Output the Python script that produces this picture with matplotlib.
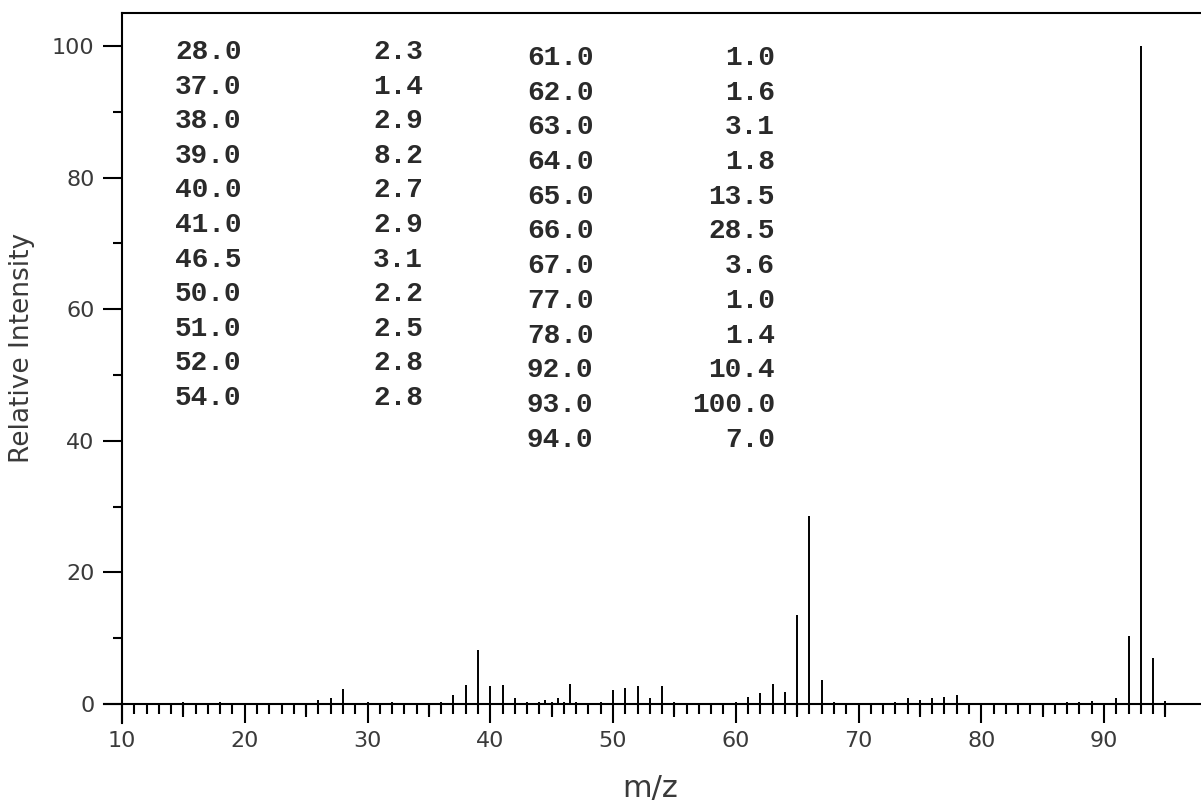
import numpy as np
import matplotlib
matplotlib.use("Agg")
import matplotlib.pyplot as plt

# peak list (m/z, relative intensity)
mz = [15, 18, 26, 27, 28, 30, 32, 36, 37, 38, 39, 40, 41, 42, 43, 44, 44.5, 45,
      45.5, 46, 46.5, 47, 49, 50, 51, 52, 53, 54, 55, 60, 61, 62, 63, 64, 65, 66,
      67, 68, 73, 74, 75, 76, 77, 78, 87, 88, 89, 91, 92, 93, 94, 95]
intensity = [0.3, 0.3, 0.6, 0.9, 2.3, 0.3, 0.3, 0.3, 1.4, 2.9, 8.2, 2.7, 2.9, 0.9,
             0.3, 0.3, 0.6, 0.3, 0.9, 0.3, 3.1, 0.3, 0.3, 2.2, 2.5, 2.8, 0.9, 2.8,
             0.3, 0.3, 1.0, 1.6, 3.1, 1.8, 13.5, 28.5, 3.6, 0.3, 0.3, 0.9, 0.6, 0.9,
             1.0, 1.4, 0.3, 0.3, 0.4, 0.9, 10.4, 100.0, 7.0, 0.4]

# peak table printed in the plot
tab1_mz = ["28.0", "37.0", "38.0", "39.0", "40.0", "41.0", "46.5", "50.0", "51.0", "52.0", "54.0"]
tab1_int = ["2.3", "1.4", "2.9", "8.2", "2.7", "2.9", "3.1", "2.2", "2.5", "2.8", "2.8"]
tab2_mz = ["61.0", "62.0", "63.0", "64.0", "65.0", "66.0", "67.0", "77.0", "78.0", "92.0", "93.0", "94.0"]
tab2_int = ["1.0", "1.6", "3.1", "1.8", "13.5", "28.5", "3.6", "1.0", "1.4", "10.4", "100.0", "7.0"]

W, H = 1201, 807
fig = plt.figure(figsize=(W / 100, H / 100), dpi=100)
ax = fig.add_axes([104 / W, (H - 723) / H, (W - 104) / W, 710 / H])

ax.vlines(mz, 0, intensity, color="black", lw=1.4)

ax.set_xlim(8.534, 97.9)
ax.set_ylim(-2.89, 105.0)

for s in ["left", "bottom", "top"]:
    ax.spines[s].set_linewidth(1.5)
ax.spines["right"].set_visible(False)
ax.spines["left"].set_position(("data", 10))
ax.spines["bottom"].set_position(("data", 0))
ax.spines["top"].set_bounds(10, 97.9)

ax.set_xticks(np.arange(10, 91, 10))
ax.set_xticks(np.arange(11, 96, 1), minor=True)
ax.set_yticks(np.arange(0, 101, 20))
ax.set_yticks(np.arange(10, 100, 20), minor=True)

# medium ticks at the 5s
ax.vlines(np.arange(15, 96, 10), -1.98, 0, color="black", lw=1.5)

ax.tick_params(axis="x", which="major", length=13.7, width=1.5, pad=6,
               labelsize=16, labelcolor="#3a3a3a")
ax.tick_params(axis="x", which="minor", length=7.2, width=1.5)
ax.tick_params(axis="y", which="major", length=13.7, width=1.5, pad=6,
               labelsize=16, labelcolor="#3a3a3a")
ax.tick_params(axis="y", which="minor", length=6.5, width=1.5)

fig.text(22 / W, 1 - 348 / H, "Relative Intensity", rotation=90, fontsize=19,
         color="#3a3a3a", ha="center", va="center")
fig.text(650 / W, 1 - 788 / H, "m/z", fontsize=22, color="#3a3a3a",
         ha="center", va="center")

font = dict(family="Liberation Mono", weight="bold", fontsize=20, color="#2a2a2a")
for i, (a, b) in enumerate(zip(tab1_mz, tab1_int)):
    y = 1 - (52 + i * 34.6) / H
    fig.text(175 / W, y, a, ha="left", va="center", **font)
    fig.text(423 / W, y, b, ha="right", va="center", **font)
for i, (a, b) in enumerate(zip(tab2_mz, tab2_int)):
    y = 1 - (58 + i * 34.7) / H
    fig.text(527 / W, y, a, ha="left", va="center", **font)
    fig.text(775 / W, y, b, ha="right", va="center", **font)

fig.savefig("out.png", dpi=100)
